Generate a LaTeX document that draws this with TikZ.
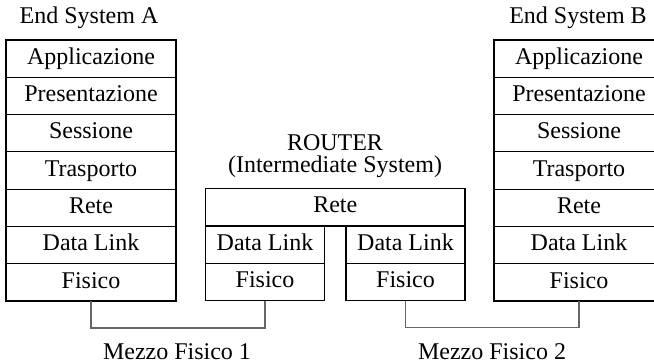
\documentclass[tikz,border=0pt]{standalone}
\usepackage{fontspec}
\setmainfont{Liberation Serif}
\usetikzlibrary{positioning}

\begin{document}
\begin{tikzpicture}[x=0.5pt,y=-0.5pt,on grid,node distance=18.65pt,
    every node/.style={font=\fontsize{12}{14}\selectfont},
    layer/.style={draw,line width=0.6pt,minimum width=85pt,
        minimum height=18.65pt,text height=8.2pt,text depth=2.6pt,
        inner sep=0pt,outer sep=0pt},
    link/.style={gray!80!black,line width=0.6pt}]
    \useasboundingbox (0,0) rectangle (654,362);
    %
    % End System A
    \node (ESA) at (89,18) {End System A};
    \node[layer] (A1) at (91,58.65) {Applicazione};
    \node[layer,below=of A1] (A2) {Presentazione};
    \node[layer,below=of A2] (A3) {Sessione};
    \node[layer,below=of A3] (A4) {Trasporto};
    \node[layer,below=of A4] (A5) {Rete};
    \node[layer,below=of A5] (A6) {Data Link};
    \node[layer,below=of A6] (A7) {Fisico};
    %
    % End System B
    \node (ESB) at (578,18) {End System B};
    \node[layer] (B1) at (579,58.65) {Applicazione};
    \node[layer,below=of B1] (B2) {Presentazione};
    \node[layer,below=of B2] (B3) {Sessione};
    \node[layer,below=of B3] (B4) {Trasporto};
    \node[layer,below=of B4] (B5) {Rete};
    \node[layer,below=of B5] (B6) {Data Link};
    \node[layer,below=of B6] (B7) {Fisico};
    %
    % Router
    \node (Rtr) at (335,143) {ROUTER};
    \node (IS) at (335,167) {(Intermediate System)};
    \node[layer,minimum width=129.7pt] (R5) at (335.3,207.3) {Rete};
    \node[layer,minimum width=59.2pt] (R6a) at (265,244.6) {Data Link};
    \node[layer,minimum width=59.2pt,below=of R6a] (R7a) {Fisico};
    \node[layer,minimum width=59.5pt] (R6b) at (405.5,244.6) {Data Link};
    \node[layer,minimum width=59.5pt,below=of R6b] (R7b) {Fisico};
    %
    % mezzi fisici
    \draw[link] (A7.south) -- ++(0,27) -| (R7a.south);
    \draw[link] (R7b.south) -- ++(0,27) -| (B7.south);
    \node (M1) at (177,352) {Mezzo Fisico 1};
    \node (M2) at (492,352) {Mezzo Fisico 2};
    %
\end{tikzpicture}
\end{document}
